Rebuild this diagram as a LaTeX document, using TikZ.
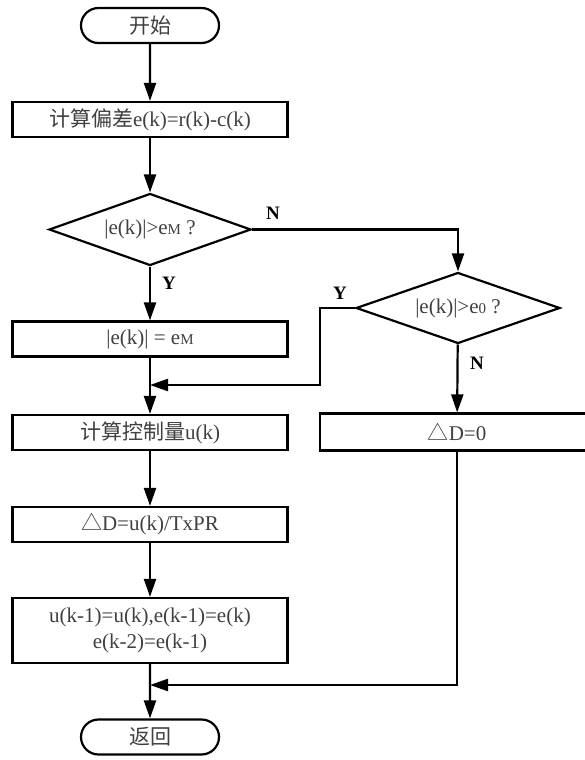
\documentclass[tikz,border=0pt]{standalone}
\usepackage{fontspec}
\setmainfont{Liberation Serif}
\newfontfamily\cjk{Noto Sans CJK SC}
\usetikzlibrary{shapes.geometric,shapes.misc,arrows.meta}
\newcommand{\smallsub}[1]{{\fontsize{15}{15}\selectfont #1}}
\begin{document}
\begin{tikzpicture}[x=1pt,y=-1pt,
  line width=2.2pt,
  txt/.style={text=black!75, font=\fontsize{21}{26}\selectfont},
  proc/.style={txt, draw=black, rectangle, minimum width=275pt, minimum height=35pt, inner sep=0pt, align=center},
  term/.style={txt, draw=black, rounded rectangle, minimum width=138pt, minimum height=35pt, inner sep=0pt},
  dec/.style={txt, draw=black, diamond, aspect=2.8, inner sep=0pt, minimum width=202pt, minimum height=72pt},
  lab/.style={font=\fontsize{19}{19}\selectfont\bfseries, text=black},
  arr/.style={-{Triangle[length=18pt,width=12pt]}},
]
\useasboundingbox[fill=white] (0,0) rectangle (585,760);

\node[term] (start) at (150,25.5) {{\cjk 开始}};
\node[proc] (err) at (150,119.5) {{\cjk 计算偏差}e(k)=r(k)-c(k)};
\node[dec] (d1) at (150,229.5) {|e(k)|>e\smallsub{M} ?};
\node[proc] (lim) at (150,339) {|e(k)| = e\smallsub{M}};
\coordinate (j1) at (150,385);
\node[proc] (u) at (150,432.5) {{\cjk 计算控制量}u(k)};
\node[proc] (dd) at (150,524.5) {{\cjk △}D=u(k)/TxPR};
\node[proc, minimum height=65pt] (upd) at (150,630.5) {u(k-1)=u(k),e(k-1)=e(k)\\e(k-2)=e(k-1)};
\coordinate (j2) at (150,685);
\node[term] (ret) at (150,737) {{\cjk 返回}};

\node[dec, minimum width=204pt, minimum height=71pt] (d2) at (458,308) {|e(k)|>e\smallsub{0} ?};
\node[proc, minimum width=274pt, minimum height=37pt] (dz) at (457,432) {{\cjk △}D=0};
\coordinate (c1) at (320,308);

\node[lab] (lN1) at (273,213) {N};
\node[lab] (lY1) at (169,283) {Y};
\node[lab] (lY2) at (340,293) {Y};
\node[lab] (lN2) at (477,363) {N};

\draw[arr] (start) -- (err);
\draw[arr] (err) -- (d1);
\draw[arr] (d1) -- (lim);
\draw[arr] (lim) -- (u);
\draw[arr] (u) -- (dd);
\draw[arr] (dd) -- (upd);
\draw[arr] (upd) -- (ret);
\draw[arr] (d1.east) -| (d2.north);
\draw[arr] (d2.west) -- (c1) |- (j1);
\draw[arr] (d2) -- (dz);
\draw[arr] (dz.south) |- (j2);
\end{tikzpicture}
\end{document}
